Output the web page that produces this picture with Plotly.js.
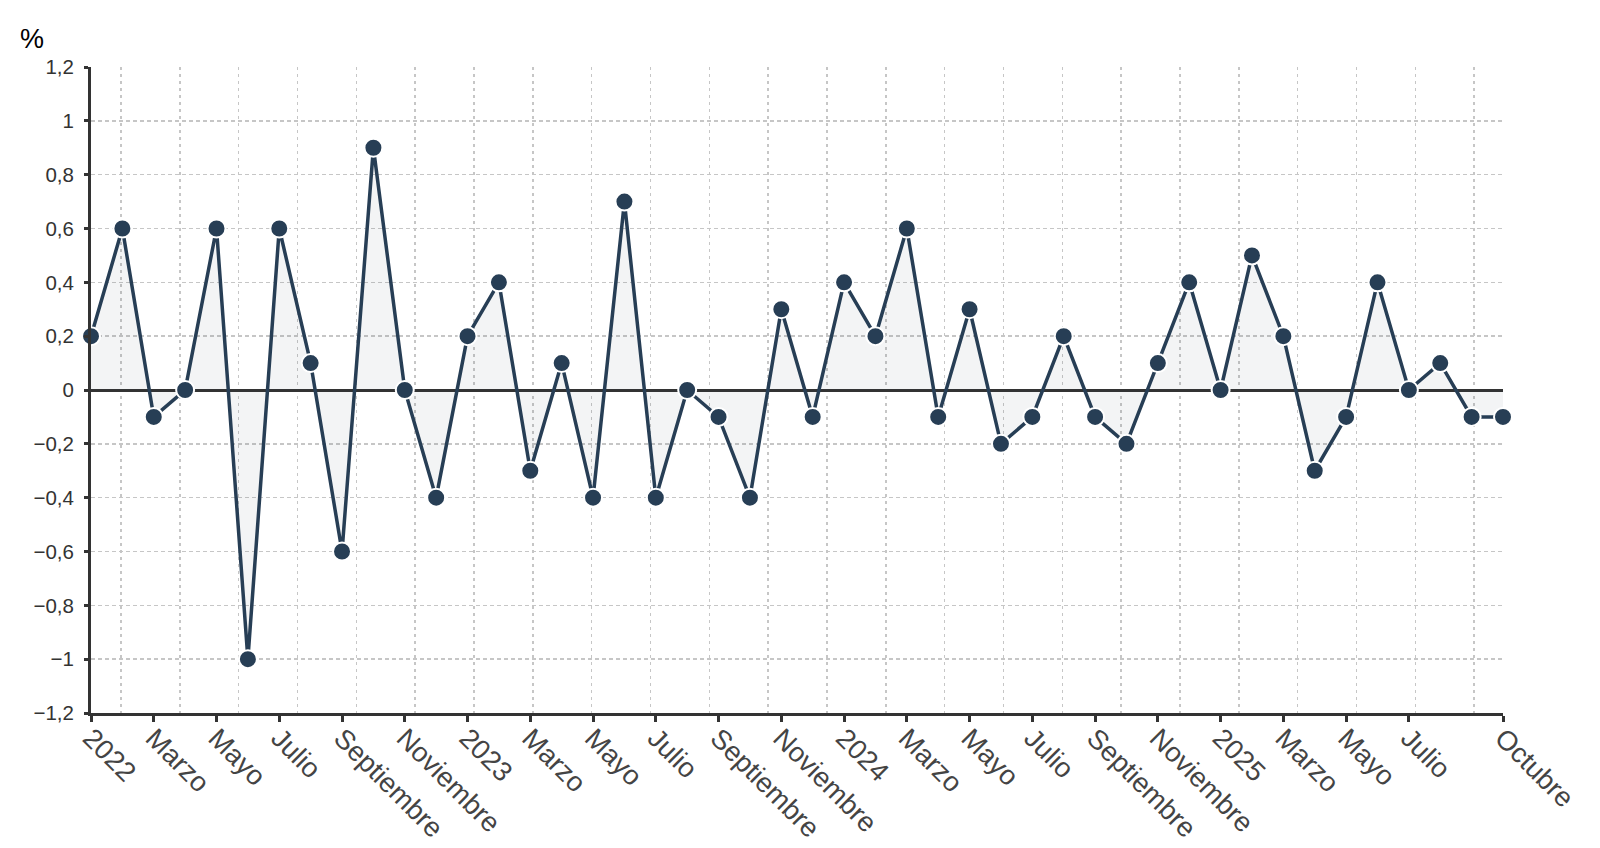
<!DOCTYPE html>
<html>
<head>
<meta charset="utf-8">
<script src="https://cdn.plot.ly/plotly-3.0.1.min.js"></script>
<style>html,body{margin:0;padding:0;background:#fff;}#chart{width:1600px;height:848px;}</style>
</head>
<body>
<div id="chart"></div>
<script>
// Months (Jan 2022 – Oct 2025)
const months = [
  "2022-01","2022-02","2022-03","2022-04","2022-05","2022-06","2022-07","2022-08","2022-09","2022-10","2022-11","2022-12",
  "2023-01","2023-02","2023-03","2023-04","2023-05","2023-06","2023-07","2023-08","2023-09","2023-10","2023-11","2023-12",
  "2024-01","2024-02","2024-03","2024-04","2024-05","2024-06","2024-07","2024-08","2024-09","2024-10","2024-11","2024-12",
  "2025-01","2025-02","2025-03","2025-04","2025-05","2025-06","2025-07","2025-08","2025-09","2025-10"
];
// Monthly change, %
const values = [
  0.2, 0.6, -0.1, 0.0, 0.6, -1.0, 0.6, 0.1, -0.6, 0.9, 0.0, -0.4,
  0.2, 0.4, -0.3, 0.1, -0.4, 0.7, -0.4, 0.0, -0.1, -0.4, 0.3, -0.1,
  0.4, 0.2, 0.6, -0.1, 0.3, -0.2, -0.1, 0.2, -0.1, -0.2, 0.1, 0.4,
  0.0, 0.5, 0.2, -0.3, -0.1, 0.4, 0.0, 0.1, -0.1, -0.1
];
// Axis tick labels
const tickMonths = [
  "2022-01","2022-03","2022-05","2022-07","2022-09","2022-11",
  "2023-01","2023-03","2023-05","2023-07","2023-09","2023-11",
  "2024-01","2024-03","2024-05","2024-07","2024-09","2024-11",
  "2025-01","2025-03","2025-05","2025-07","2025-10"
];
const tickLabels = [
  "2022","Marzo","Mayo","Julio","Septiembre","Noviembre",
  "2023","Marzo","Mayo","Julio","Septiembre","Noviembre",
  "2024","Marzo","Mayo","Julio","Septiembre","Noviembre",
  "2025","Marzo","Mayo","Julio","Octubre"
];

const navy = "#273e55";
const font = "Liberation Sans, Arial, sans-serif";

const traces = [
  {
    x: [0], y: [null], xaxis: "x2", yaxis: "y",
    type: "scatter", mode: "lines", showlegend: false, hoverinfo: "skip"
  },
  {
    x: months, y: values, type: "scatter", mode: "lines+markers",
    fill: "tozeroy", fillcolor: "rgba(44,62,80,0.06)",
    line: {color: navy, width: 3.5},
    marker: {color: navy, size: 18, line: {color: "#ffffff", width: 2}},
    cliponaxis: false, showlegend: false
  }
];

const layout = {
  width: 1600, height: 848,
  margin: {l: 91, r: 97, t: 67, b: 135},
  paper_bgcolor: "#ffffff", plot_bgcolor: "#ffffff",
  separators: ",.",
  font: {family: font, color: "#333"},
  title: {
    text: "%", x: 0.0125, xref: "container", xanchor: "left",
    y: 0.954, yref: "container", yanchor: "middle",
    font: {family: font, size: 27, color: "#000"}
  },
  xaxis: {
    type: "category", range: [0, 45],
    tickmode: "array", tickvals: tickMonths, ticktext: tickLabels,
    tickangle: 45, tickfont: {family: font, size: 27.5, color: "#444"},
    ticklabelstandoff: -11,
    ticks: "outside", ticklen: 6, tickwidth: 3, tickcolor: "#333",
    showgrid: false, zeroline: false,
    showline: true, linecolor: "#333", linewidth: 3
  },
  xaxis2: {
    overlaying: "x", anchor: "y", side: "bottom",
    range: [-0.51, 23.49], tick0: 0, dtick: 1,
    showticklabels: false, ticks: "",
    showgrid: true, gridcolor: "#c6c6c6", gridwidth: 1.5, griddash: "3px,4px",
    zeroline: false, showline: false
  },
  yaxis: {
    range: [-1.2, 1.2], tick0: 0, dtick: 0.2,
    tickfont: {family: font, size: 20.5, color: "#333"},
    ticklabelstandoff: 6,
    ticks: "outside", ticklen: 4, tickwidth: 3, tickcolor: "#333",
    showgrid: true, gridcolor: "#c6c6c6", gridwidth: 1.5, griddash: "4px,3px",
    zeroline: true, zerolinecolor: "#333", zerolinewidth: 3,
    showline: true, linecolor: "#333", linewidth: 3
  }
};

Plotly.newPlot("chart", traces, layout, {displayModeBar: false, staticPlot: true});
</script>
</body>
</html>
